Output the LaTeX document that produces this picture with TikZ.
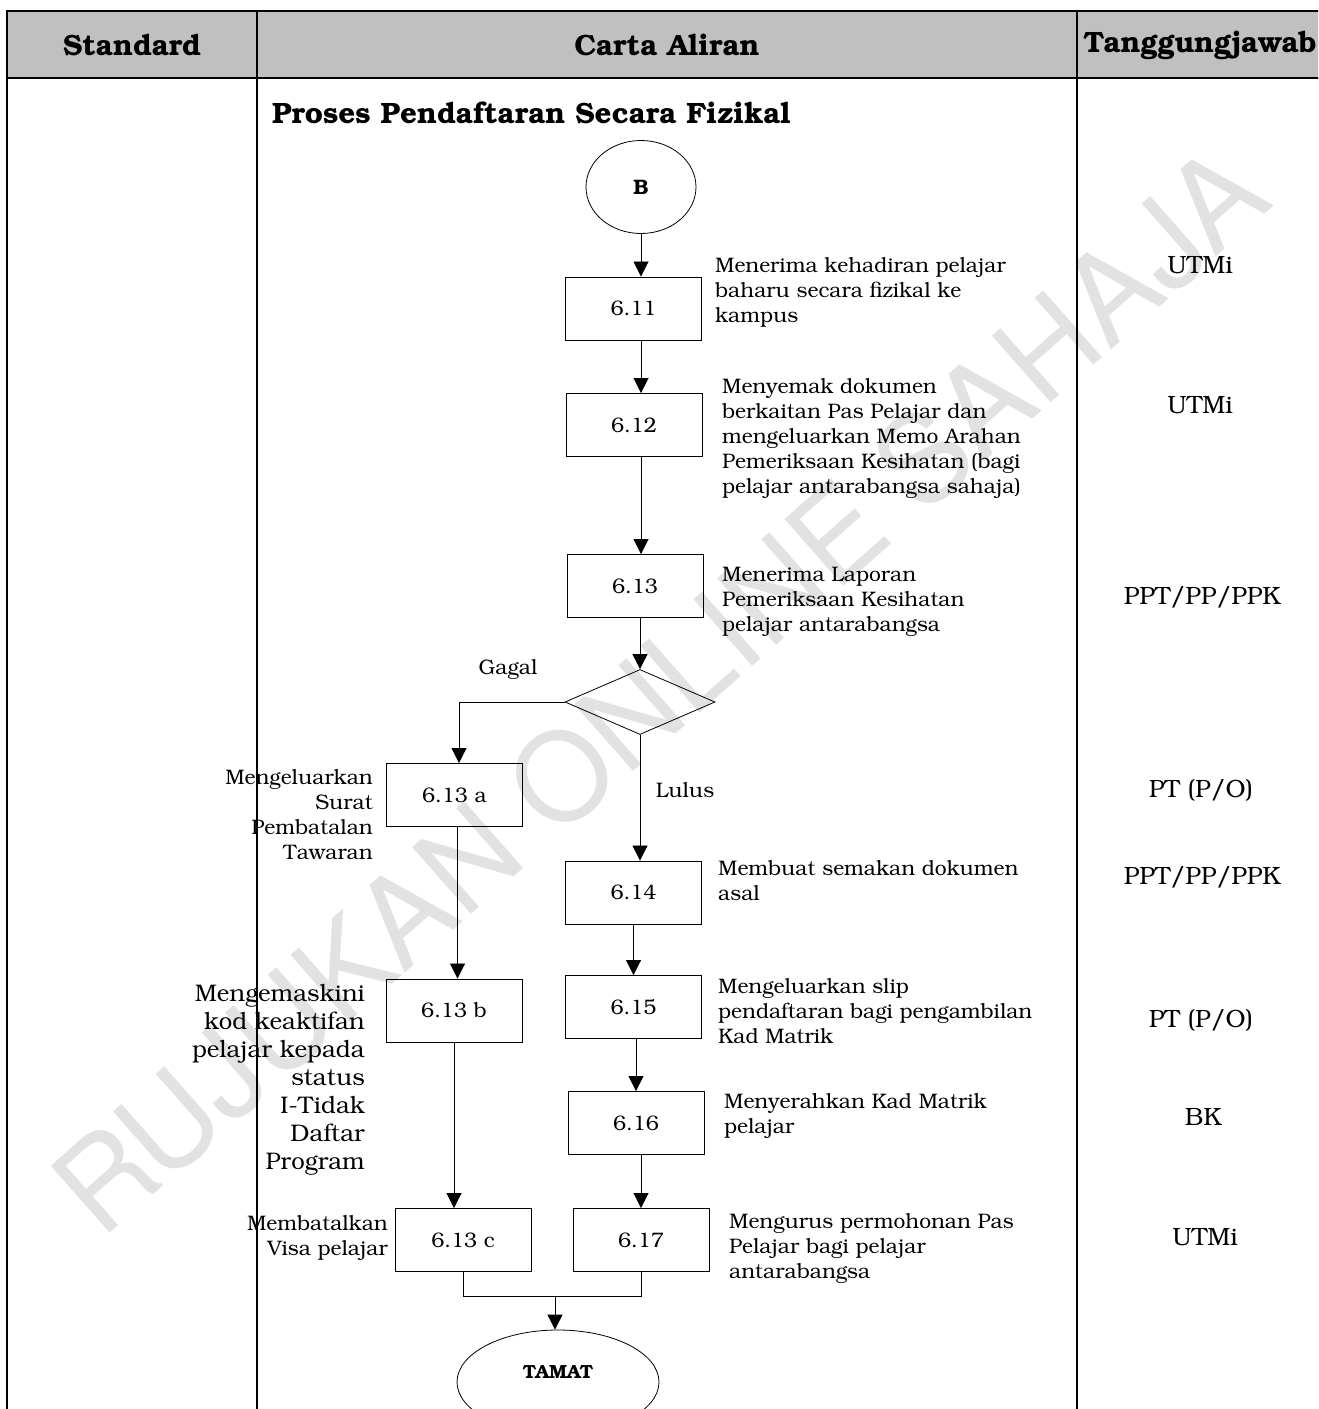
\documentclass[tikz,border=0pt]{standalone}
\usepackage[T1]{fontenc}
\usepackage{bookman}
\usetikzlibrary{shapes.geometric,arrows.meta}
\newcommand\dsc{\fontsize{21}{25}\selectfont}
\newcommand\dscL{\fontsize{24}{28}\selectfont}
\newcommand\hdr{\fontsize{29.4}{34}\selectfont\bfseries}
\newcommand\rsp{\fontsize{25}{29}\selectfont}
\definecolor{hdrgray}{RGB}{192,192,192}
\definecolor{wmgray}{RGB}{226,226,226}
\begin{document}
\begin{tikzpicture}[x=1pt,y=-1pt,
  proc/.style={draw,line width=0.9pt,minimum width=136pt,minimum height=63pt,inner sep=0pt,font=\dsc},
  desc/.style={font=\dsc,align=left,anchor=north west,inner sep=0pt},
  descr/.style={font=\dsc,align=right,anchor=north east,inner sep=0pt},
  resp/.style={font=\rsp,inner sep=0pt},
  arr/.style={line width=0.8pt,-{Triangle[width=15pt,length=15pt]}},
  conn/.style={line width=0.8pt},
  tbl/.style={line width=2.8pt}]
\useasboundingbox (0,0) rectangle (1318,1409);
\clip (0,0) rectangle (1318,1409);
\fill[white] (0,0) rectangle (1318,1409);
% watermark
\node[rotate=41.4,text=wmgray,inner sep=0pt,font=\fontfamily{phv}\fontsize{122}{122}\selectfont] (wm) at (660,690) {RUJUKAN ONLINE SAHAJA};
% table
\fill[hdrgray] (7,11) rectangle (1320,78);
\draw[tbl] (7,11) -- (1320,11);
\draw[tbl] (7,78) -- (1320,78);
\draw[tbl] (7,9.6) -- (7,1412);
\draw[tbl] (257,11) -- (257,1412);
\draw[tbl] (1077,11) -- (1077,1412);
\node[font=\hdr,inner sep=0pt] (hstd) at (132,45) {Standard};
\node[font=\hdr,inner sep=0pt] (hca) at (667,45) {Carta Aliran};
\node[font=\hdr,inner sep=0pt] (htj) at (1200,45) {Tanggungjawab};
\node[font=\hdr,anchor=west,inner sep=0pt] (title) at (272,113) {Proses Pendaftaran Secara Fizikal};
% flow nodes
\node[draw,ellipse,line width=0.8pt,minimum width=110pt,minimum height=93pt,inner sep=0pt,font=\dsc\bfseries] (B) at (641,187) {B};
\node[proc] (n611) at (633.5,308.5) {6.11};
\node[proc] (n612) at (634,425) {6.12};
\node[proc] (n613) at (635,586) {6.13};
\node[draw,diamond,aspect=2.3,line width=0.8pt,minimum width=150pt,minimum height=65pt,inner sep=0pt] (D) at (640,702) {};
\node[proc] (n613a) at (454.5,795) {6.13 a};
\node[proc] (n613b) at (454,1010.5) {6.13 b};
\node[proc] (n613c) at (463,1240) {6.13 c};
\node[proc] (n614) at (633.5,892.5) {6.14};
\node[proc] (n615) at (633.5,1007) {6.15};
\node[proc] (n616) at (636,1123) {6.16};
\node[proc] (n617) at (641,1240) {6.17};
\node[draw,ellipse,line width=0.8pt,minimum width=202pt,minimum height=104pt,inner sep=0pt,
  label={[font=\fontsize{19}{22}\selectfont\bfseries,yshift=10pt]center:TAMAT}] (T) at (558,1382) {};
% descriptions
\node[desc] (t611) at (715,258) {Menerima kehadiran pelajar\\baharu secara fizikal ke\\kampus};
\node[desc] (t612) at (722,379) {Menyemak dokumen\\berkaitan Pas Pelajar dan\\mengeluarkan Memo Arahan\\Pemeriksaan Kesihatan (bagi\\pelajar antarabangsa sahaja)};
\node[desc] (t613) at (722,567) {Menerima Laporan\\Pemeriksaan Kesihatan\\pelajar antarabangsa};
\node[descr] (t613a) at (373,770) {Mengeluarkan\\Surat\\Pembatalan\\Tawaran};
\node[descr,font=\dscL] (t613b) at (365,985) {Mengemaskini\\kod keaktifan\\pelajar kepada\\status\\I-Tidak\\Daftar\\Program};
\node[descr] (t613c) at (388,1216) {Membatalkan\\Visa pelajar};
\node[desc] (t614) at (718,861) {Membuat semakan dokumen\\asal};
\node[desc] (t615) at (718,979) {Mengeluarkan slip\\pendaftaran bagi pengambilan\\Kad Matrik};
\node[desc] (t616) at (724,1094) {Menyerahkan Kad Matrik\\pelajar};
\node[desc] (t617) at (729,1214) {Mengurus permohonan Pas\\Pelajar bagi pelajar\\antarabangsa};
\node[font=\dsc,inner sep=0pt] (gagal) at (508,670) {Gagal};
\node[font=\dsc,inner sep=0pt] (lulus) at (685,790) {Lulus};
% responsibilities
\node[resp] (r1) at (1200,265) {UTMi};
\node[resp] (r2) at (1200,405) {UTMi};
\node[resp] (r3) at (1202,598) {PPT/PP/PPK};
\node[resp] (r4) at (1201,790) {PT (P/O)};
\node[resp] (r5) at (1202,878) {PPT/PP/PPK};
\node[resp] (r6) at (1201,1020) {PT (P/O)};
\node[resp] (r7) at (1203,1117) {BK};
\node[resp] (r8) at (1205,1237) {UTMi};
% connectors
\draw[arr] (B.south) -- (B.south |- n611.north);
\draw[arr] (n611.south -| B) -- (n612.north -| B);
\draw[arr] (n612.south -| B) -- (n613.north -| B);
\draw[arr] (n613.south -| D) -- (D.north);
\draw[arr] (D.west) -| ([xshift=4.5pt]n613a.north);
\draw[arr] (D.south) -- (D.south |- n614.north);
\draw[arr] (n614.south) -- (n615.north);
\draw[arr] (n615.south -| n616) -- (n616.north);
\draw[arr] (n616.south -| n617) -- (n617.north);
\draw[arr] ([xshift=3pt]n613a.south) -- ([xshift=3pt]n613a.south |- n613b.north);
\draw[arr] (n613b.south) -- (n613b.south |- n613c.north);
\coordinate (m) at (555,1296);
\draw[conn] (n613c.south) -- (n613c.south |- m) -- (n617.south |- m) -- (n617.south);
\draw[arr] (m) -- (m |- T.north);
\end{tikzpicture}
\end{document}
